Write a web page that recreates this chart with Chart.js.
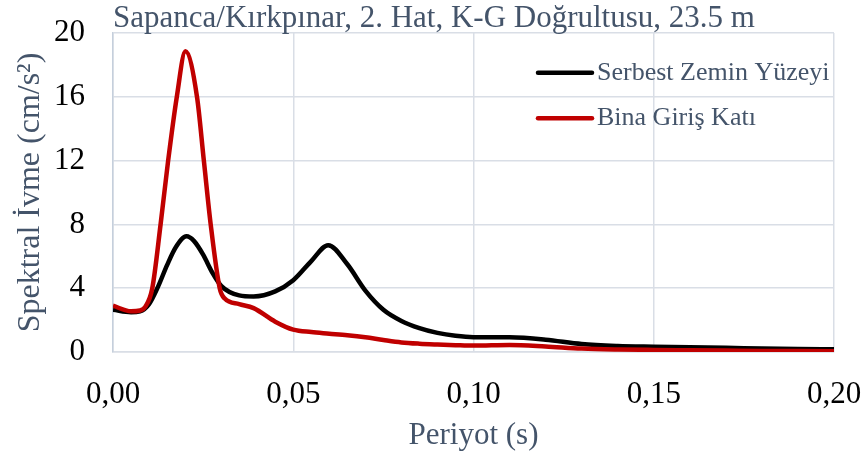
<!DOCTYPE html>
<html>
<head>
<meta charset="utf-8">
<script src="https://cdn.jsdelivr.net/npm/chart.js@4.4.0/dist/chart.umd.min.js"></script>
<style>
  html, body { margin: 0; padding: 0; background: #fff; }
  #wrap { width: 865px; height: 457px; }
</style>
</head>
<body>
<div id="wrap"><canvas id="spectrum" width="865" height="457"></canvas></div>
<script>
// ── DATA ────────────────────────────────────────────────────
const TITLE = 'Sapanca/Kırkpınar, 2. Hat, K-G Doğrultusu, 23.5 m';
const SERIES_NAMES = ['Serbest Zemin Yüzeyi', 'Bina Giriş Katı'];

// Serbest Zemin Yüzeyi (free field)
const FREE_T = [
  0, 0.005, 0.0075, 0.01, 0.0125, 0.015, 0.0175, 0.0204, 0.0225, 0.025, 0.0275,
  0.03, 0.035, 0.039, 0.045, 0.05, 0.055, 0.0597, 0.065, 0.07, 0.075, 0.08,
  0.085, 0.09, 0.095, 0.10, 0.11, 0.12, 0.13, 0.14, 0.15, 0.16, 0.17,
  0.18, 0.19, 0.20
];
const FREE_SA = [
  2.65, 2.5, 2.55, 3.0, 4.1, 5.45, 6.6, 7.25, 6.95, 6.1, 5.0,
  4.15, 3.55, 3.48, 3.8, 4.5, 5.7, 6.7, 5.5, 3.85, 2.65, 1.95,
  1.5, 1.2, 1.02, 0.93, 0.92, 0.77, 0.5, 0.38, 0.33, 0.29, 0.26,
  0.22, 0.19, 0.17
];

// Bina Giriş Katı (building ground floor)
const FLOOR_T = [
  0, 0.005, 0.0075, 0.009, 0.0109, 0.0132, 0.0153, 0.0177, 0.0201,
  0.0233, 0.0252, 0.0271, 0.0296, 0.031, 0.035, 0.039, 0.045, 0.05, 0.055,
  0.06, 0.065, 0.07, 0.075, 0.08, 0.085, 0.09, 0.095, 0.10, 0.11, 0.12,
  0.13, 0.14, 0.15, 0.16, 0.17, 0.18, 0.19, 0.20
];
const FLOOR_SA = [
  2.9, 2.55, 2.6, 2.85, 4.0, 8.0, 12.0, 16.0, 18.85,
  16.0, 12.0, 8.0, 4.0, 3.35, 3.0, 2.75, 1.9, 1.4, 1.25,
  1.15, 1.05, 0.92, 0.75, 0.6, 0.52, 0.47, 0.43, 0.4, 0.44, 0.35,
  0.22, 0.16, 0.13, 0.11, 0.09, 0.07, 0.06, 0.05
];

const X_TICKS = ['0,00', '0,05', '0,10', '0,15', '0,20'];
const Y_TICKS = ['0', '4', '8', '12', '16', '20'];

// ── STYLE ───────────────────────────────────────────────────
const SERIF = "'Liberation Serif', 'Times New Roman', serif";
const SLATE = '#44546A';
const GRID = '#D9DEE6';
const COLORS = ['#000000', '#C00000'];

// title left-aligned with the plot, drawn above it
const topTitle = {
  id: 'topTitle',
  afterDraw(chart, args, opts) {
    const ctx = chart.ctx;
    ctx.save();
    ctx.fillStyle = SLATE;
    ctx.font = `31px ${SERIF}`;
    ctx.textAlign = 'left';
    ctx.textBaseline = 'alphabetic';
    ctx.fillText(opts.text, chart.chartArea.left, opts.baseline);
    ctx.restore();
  }
};

// legend drawn inside the plot, top right
const insideLegend = {
  id: 'insideLegend',
  afterDraw(chart, args, opts) {
    const ctx = chart.ctx;
    ctx.save();
    chart.data.datasets.forEach((ds, i) => {
      const y = opts.top + i * opts.rowGap;
      ctx.strokeStyle = ds.borderColor;
      ctx.lineWidth = 4.5;
      ctx.lineCap = 'round';
      ctx.beginPath();
      ctx.moveTo(opts.left, y);
      ctx.lineTo(opts.left + opts.lineLen, y);
      ctx.stroke();
      ctx.fillStyle = SLATE;
      ctx.font = `26px ${SERIF}`;
      ctx.textBaseline = 'middle';
      ctx.textAlign = 'left';
      ctx.fillText(ds.label, opts.left + opts.lineLen + 5, y);
    });
    ctx.restore();
  }
};

const toPoints = (ts, vals) => ts.map((t, i) => ({ x: t, y: vals[i] }));

new Chart(document.getElementById('spectrum'), {
  type: 'line',
  data: {
    datasets: [
      {
        label: SERIES_NAMES[0],
        data: toPoints(FREE_T, FREE_SA),
        borderColor: COLORS[0],
        borderWidth: 4.5,
        pointRadius: 0,
        cubicInterpolationMode: 'monotone',
        order: 1
      },
      {
        label: SERIES_NAMES[1],
        data: toPoints(FLOOR_T, FLOOR_SA),
        borderColor: COLORS[1],
        borderWidth: 4.5,
        pointRadius: 0,
        cubicInterpolationMode: 'monotone',
        order: 0
      }
    ]
  },
  options: {
    responsive: false,
    devicePixelRatio: 1,
    animation: false,
    layout: { padding: { left: 0, top: 33, right: 31, bottom: 0 } },
    plugins: {
      legend: { display: false },
      tooltip: { enabled: false },
      title: { display: false },
      topTitle: { text: TITLE, baseline: 27 },
      insideLegend: { left: 538, top: 72.7, rowGap: 45.5, lineLen: 54 }
    },
    scales: {
      x: {
        type: 'linear',
        min: 0,
        max: 0.2,
        ticks: {
          stepSize: 0.05,
          color: '#000',
          padding: 24,
          font: { family: SERIF, size: 31 },
          callback: (v, i) => X_TICKS[i]
        },
        grid: { color: GRID, lineWidth: 1.5, drawTicks: false },
        border: { color: GRID, width: 1.5 },
        title: {
          display: true,
          text: 'Periyot (s)',
          color: SLATE,
          font: { family: SERIF, size: 31 },
          padding: { top: 4, bottom: 3 }
        },
        afterFit: s => { s.height = 105; s.paddingLeft = 0; s.paddingRight = 0; }
      },
      y: {
        min: 0,
        max: 20,
        ticks: {
          stepSize: 4,
          color: '#000',
          padding: 28,
          font: { family: SERIF, size: 31 },
          callback: (v, i) => Y_TICKS[i]
        },
        grid: { color: GRID, lineWidth: 1.5, drawTicks: false },
        border: { color: '#C5CFDC', width: 1.5 },
        title: {
          display: true,
          text: 'Spektral İvme (cm/s²)',
          color: SLATE,
          font: { family: SERIF, size: 32 },
          padding: { top: 11, bottom: 4 }
        },
        afterFit: s => { s.width = 113; s.paddingTop = 0; s.paddingBottom = 0; }
      }
    }
  },
  plugins: [topTitle, insideLegend]
});
</script>
</body>
</html>
